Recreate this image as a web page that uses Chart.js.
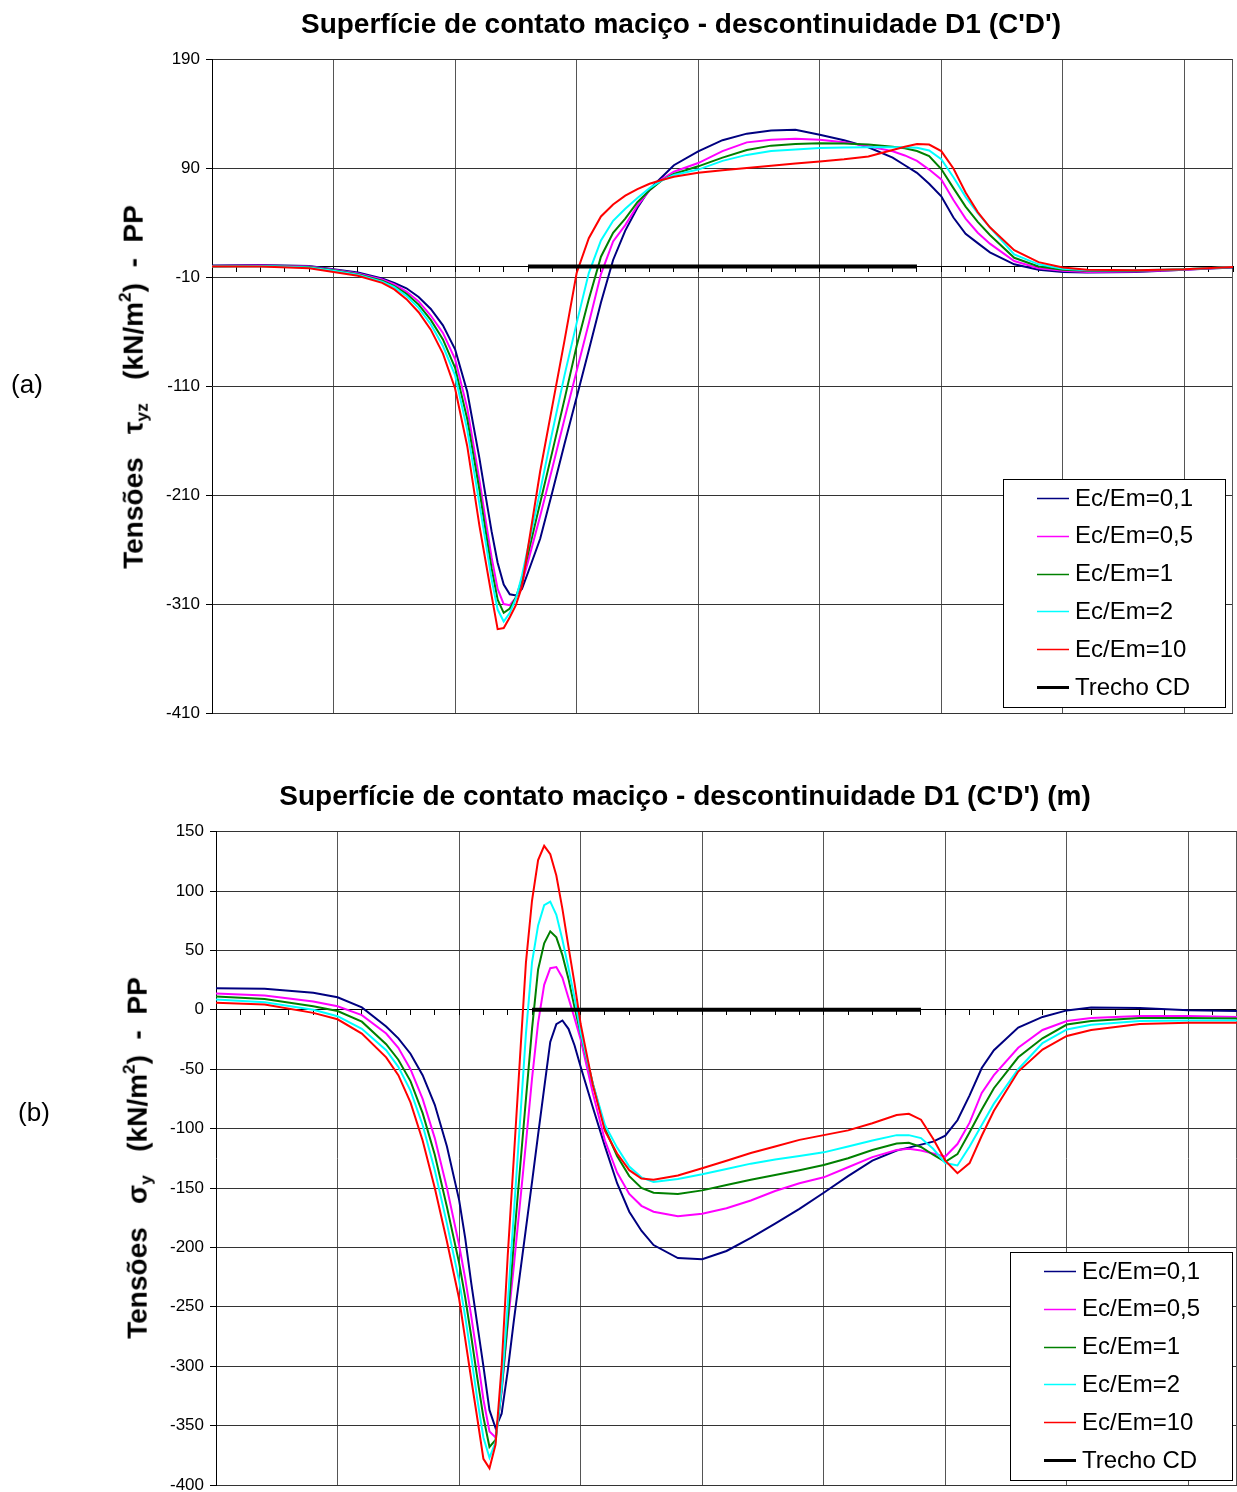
<!DOCTYPE html>
<html>
<head>
<meta charset="utf-8">
<script src="https://cdn.jsdelivr.net/npm/chart.js@4.4.1/dist/chart.umd.min.js"></script>
<style>
html,body{margin:0;padding:0;background:#fff;overflow:hidden;}
#wrap{position:relative;width:1237px;height:1492px;overflow:hidden;font-family:"Liberation Sans",Arial,sans-serif;color:#000;}
canvas{position:absolute;left:0;}
#cA{top:0;}
#cB{top:760px;}
.lbl{position:absolute;font-size:26px;transform:translate(-50%,-50%);white-space:nowrap;}
.ytitle{position:absolute;font-weight:bold;font-size:28px;white-space:nowrap;transform:translate(-50%,-50%) rotate(-90deg);line-height:1;}
.ytitle sub{font-size:62%;vertical-align:-0.3em;}
.ytitle sup{font-size:62%;vertical-align:0.7em;}
</style>
</head>
<body>
<div id="wrap">
<canvas id="cA" width="1237" height="745"></canvas>
<canvas id="cB" width="1237" height="750"></canvas>
<div class="lbl" style="left:27px;top:384px;">(a)</div>
<div class="lbl" style="left:34px;top:1112px;">(b)</div>
<div class="ytitle" style="left:134px;top:387px;">Tensões&nbsp;&nbsp;&nbsp;τ<sub>yz</sub>&nbsp;&nbsp;&nbsp;(kN/m<sup>2</sup>)&nbsp;&nbsp;-&nbsp;&nbsp;PP</div>
<div class="ytitle" style="left:138px;top:1158px;">Tensões&nbsp;&nbsp;&nbsp;σ<sub>y</sub>&nbsp;&nbsp;&nbsp;(kN/m<sup>2</sup>)&nbsp;&nbsp;-&nbsp;&nbsp;PP</div>
</div>
<script>
// ---------- data ----------
const seriesLabels = ['Ec/Em=0,1', 'Ec/Em=0,5', 'Ec/Em=1', 'Ec/Em=2', 'Ec/Em=10'];
const seriesColors = ['#000080', '#FF00FF', '#008000', '#00FFFF', '#FF0000'];
const trechoLabel = 'Trecho CD';
const trechoX = [13, 29];

const titleA = "Superfície de contato maciço - descontinuidade D1 (C'D')";
const titleB = "Superfície de contato maciço - descontinuidade D1 (C'D') (m)";

const yTicksA = [-410, -310, -210, -110, -10, 90, 190];
const yTicksB = [-400, -350, -300, -250, -200, -150, -100, -50, 0, 50, 100, 150];

// (a) tau_yz
const xA = [0,2,4,5,6,7,7.5,8,8.5,9,9.5,10,10.5,11,11.25,11.5,11.75,12,12.25,12.5,12.75,13,13.5,14,14.5,15,15.5,16,16.5,17,17.5,18,18.5,19,20,21,22,23,24,25,26,27,28,28.5,29,29.5,30,30.5,31,31.5,32,33,34,35,36,38,40,42];
const tauBlue = [1,1.5,0.5,-2.5,-5.5,-11,-15,-20,-28,-39,-54,-76,-115,-176,-210,-243,-272,-292,-301,-302,-296,-281,-250,-207,-163,-120,-77,-33,6,33,54,71,82,93,105.7,116,122,125,125.5,121,116,109.5,100,93,86,76,64.5,45,30,21.5,13,2,-3,-5,-5.5,-5,-3,-1];
const tauMagenta = [0.5,1,0,-3,-6.5,-12,-16.5,-23,-32,-45,-61,-85,-130,-196,-232,-267,-296,-310,-311,-304,-291,-271,-229,-185,-140,-96,-52,-7,23,38,56,70,80,87,95,106,114,116.5,117.4,116.4,114,110.5,105.8,102,97,89,80,61,44,31,21,5,-1.5,-4,-5,-4.5,-3,-0.5];
const tauGreen = [0,0.5,-0.5,-3.5,-7,-13,-18,-25,-35,-49,-67,-93,-140,-205,-242,-277,-306,-318,-314,-304,-287,-264,-217,-170,-122,-73,-30,9,31,44,59,70,79,85,92,100,107,111,112.5,113.3,113,112,110,108.5,106,101.5,89.5,72,55,41,29,8,0,-3,-4,-4,-2.5,-0.5];
const tauCyan = [0,0.5,-1,-4,-7.5,-14,-19,-27,-38,-53,-73,-100,-150,-218,-252,-287,-315,-326,-318,-305,-284,-258,-206,-152,-100,-52,-6,24,42,53,63,72,79,84,89,97,102.5,106,107.5,108.8,109.3,109.5,109.5,109.5,109,106.5,98.5,82,64,49,36,11,2,-2,-3.5,-3.5,-2.5,-0.5];
const tauRed = [0,0,-1.5,-5,-8.5,-15,-21,-30,-42,-58,-80,-112,-165,-238,-270,-302,-333,-332,-322,-311,-294,-258,-188,-128,-68,-6,26,46,57,65,71,76,79.5,82.5,86,88.5,90.5,92.5,94.5,96.5,98.5,101,107,110,112.5,112,106,90,68,50,36,15,4,-1,-3,-3.5,-2.5,-0.5];

// (b) sigma_y
const xB = [0,2,4,5,6,7,7.5,8,8.5,9,9.5,10,10.25,10.5,10.75,11,11.25,11.5,11.75,12,12.25,12.5,12.75,13,13.25,13.5,13.75,14,14.25,14.5,14.75,15,15.5,16,16.5,17,17.5,18,19,20,21,22,23,24,25,26,27,28,28.5,29,29.5,30,30.5,31,31.5,32,33,34,35,36,38,40,42];
const sigBlue = [18.2,17.8,14.3,10.5,2,-14,-24,-37,-55,-80,-115,-160,-192,-230,-265,-300,-337,-352,-340,-304,-262,-223,-184,-145,-105,-66,-27,-12,-9,-16,-30,-48,-82,-115,-146,-170,-186,-198,-209,-210,-203,-192,-180,-167.5,-154,-140,-127,-118.5,-116,-113.5,-111,-106,-93,-72,-49,-34,-15,-6,-0.5,2,1.5,-0.3,-1];
const sigMagenta = [13.7,12,7,3,-4.5,-20,-32,-50,-75,-108,-150,-198,-226,-258,-292,-328,-355,-360,-322,-265,-216,-164,-112,-58,-11,21,35,36,27,10,-7,-25,-70,-110,-137,-155,-165,-170,-173.7,-171.7,-167,-160.5,-152.5,-146,-141,-132.5,-124,-118,-117,-118.5,-121,-123.5,-113,-95,-70,-55,-32,-17,-9.5,-7,-5.3,-5.3,-6.1];
const sigGreen = [11.2,9,3,-1,-10,-29,-42,-60,-87,-122,-166,-213,-242,-275,-310,-343,-368,-362,-320,-262,-196,-135,-75,-16,34,56,66,61,46,26,2,-20,-62,-100,-123,-140,-150,-154,-155,-152,-147.5,-143,-139,-135,-130.7,-125,-118,-112.5,-112,-115.5,-122,-128,-121.5,-103,-84,-66,-40,-24,-12.4,-9.5,-7,-7,-7.3];
const sigCyan = [8.6,6.3,0,-5.4,-16,-34,-48,-68,-97,-135,-180,-228,-258,-292,-328,-360,-377,-364,-318,-248,-172,-96,-20,40,71,88,91,80,59,35,10,-19,-62,-97,-116,-132,-141,-145,-142.5,-138.5,-134,-129.5,-126,-123,-120,-115,-110,-105.5,-105.5,-108,-117,-129,-131,-115,-97,-79,-50,-28,-16.5,-12.5,-9.5,-9,-9];
const sigRed = [6,4.5,-2.6,-8,-20,-40,-55,-78,-110,-150,-195,-243,-277,-311,-344,-378,-386,-366,-300,-207,-125,-42,40,92,126,138,131,113,85,53,22,-12,-63,-102,-121,-135,-142,-143,-139.5,-133.4,-127,-120.5,-115,-109.5,-105.5,-101.5,-95.5,-88.5,-87.5,-92.5,-108.5,-127,-137.5,-129,-106,-85,-52,-33.5,-22,-17,-12,-11,-11];

// ---------- chart ----------
Chart.defaults.font.family = '"Liberation Sans", Arial, sans-serif';
Chart.defaults.color = '#000';

const xTickValues = [];
for (let v = 0; v <= 42; v++) xTickValues.push(v);

function makeDatasets(x, list) {
  const ds = list.map((ys, i) => ({
    label: seriesLabels[i],
    data: x.map((xv, j) => ({x: xv, y: ys[j]})),
    borderColor: seriesColors[i],
    backgroundColor: seriesColors[i],
    borderWidth: 2,
    pointRadius: 0,
    tension: 0,
    fill: false,
    order: 5 - i
  }));
  ds.push({
    label: trechoLabel,
    data: trechoX.map(v => ({x: v, y: 0})),
    borderColor: '#000',
    backgroundColor: '#000',
    borderWidth: 4,
    pointRadius: 0,
    fill: false,
    order: 0
  });
  return ds;
}

const boxPlugin = {
  id: 'plotBox',
  beforeDatasetsDraw(chart) {
    const {ctx, chartArea: ca} = chart;
    ctx.save();
    ctx.strokeStyle = '#555';
    ctx.lineWidth = 1;
    ctx.beginPath();
    ctx.moveTo(Math.round(ca.right) - 0.5, ca.top);
    ctx.lineTo(Math.round(ca.right) - 0.5, ca.bottom);
    ctx.stroke();
    ctx.restore();
  }
};

const legendPlugin = {
  id: 'boxLegend',
  afterDraw(chart, args, opts) {
    const {ctx, chartArea: ca} = chart;
    const w = 222, h = 228;
    const x0 = Math.round(ca.right - opts.dx - w), y0 = Math.round(ca.bottom - opts.dy - h);
    ctx.save();
    ctx.fillStyle = '#fff';
    ctx.fillRect(x0, y0, w, h);
    ctx.strokeStyle = '#000';
    ctx.lineWidth = 1;
    ctx.strokeRect(x0 + 0.5, y0 + 0.5, w, h);
    ctx.font = '24px "Liberation Sans", Arial, sans-serif';
    ctx.textBaseline = 'middle';
    ctx.textAlign = 'left';
    chart.data.datasets.forEach((d, i) => {
      const y = y0 + 19 + i * 37.8;
      ctx.strokeStyle = d.borderColor;
      ctx.lineWidth = d.borderWidth >= 4 ? 3 : 1.5;
      ctx.beginPath();
      ctx.moveTo(x0 + 34, Math.round(y) + 0.5);
      ctx.lineTo(x0 + 66, Math.round(y) + 0.5);
      ctx.stroke();
      ctx.fillStyle = '#000';
      ctx.fillText(d.label, x0 + 72, y + 1);
    });
    ctx.restore();
  }
};

function makeChart(id, x, list, title, yMin, yMax, yTicks, pad, titlePad, legendOff) {
  return new Chart(document.getElementById(id), {
    type: 'line',
    data: {datasets: makeDatasets(x, list)},
    plugins: [boxPlugin, legendPlugin],
    options: {
      responsive: false,
      animation: false,
      events: [],
      layout: {padding: pad},
      plugins: {
        legend: {display: false},
        tooltip: {enabled: false},
        title: {
          display: true,
          text: title,
          color: '#000',
          font: {size: 28, weight: 'bold'},
          padding: titlePad
        },
        boxLegend: legendOff
      },
      scales: {
        x: {
          type: 'linear',
          min: 0,
          max: 42,
          position: {y: 0},
          afterBuildTicks: s => { s.ticks = xTickValues.map(v => ({value: v})); },
          ticks: {display: false},
          grid: {
            color: c => (c.tick && c.tick.value % 5 === 0 && c.tick.value > 0) ? '#555' : 'rgba(0,0,0,0)',
            tickColor: '#000',
            tickLength: 5,
            lineWidth: 1
          },
          border: {display: true, color: '#000', width: 1}
        },
        y: {
          type: 'linear',
          min: yMin,
          max: yMax,
          afterBuildTicks: s => { s.ticks = yTicks.map(v => ({value: v})); },
          afterFit: s => { s.width = 83; },
          ticks: {font: {size: 17}, color: '#000', padding: 6},
          grid: {color: '#333', tickColor: '#000', tickLength: 6, lineWidth: 1},
          border: {display: true, color: '#000', width: 1}
        }
      }
    }
  });
}

makeChart('cA', xA, [tauBlue, tauMagenta, tauGreen, tauCyan, tauRed], titleA,
  -410, 190, yTicksA, {left: 129, right: 4, top: 0, bottom: 32}, {top: 8, bottom: 18}, {dx: 8, dy: 6});
makeChart('cB', xB, [sigBlue, sigMagenta, sigGreen, sigCyan, sigRed], titleB,
  -400, 150, yTicksB, {left: 133, right: 0, top: 0, bottom: 25}, {top: 20, bottom: 18}, {dx: 5, dy: 5});
</script>
</body>
</html>
